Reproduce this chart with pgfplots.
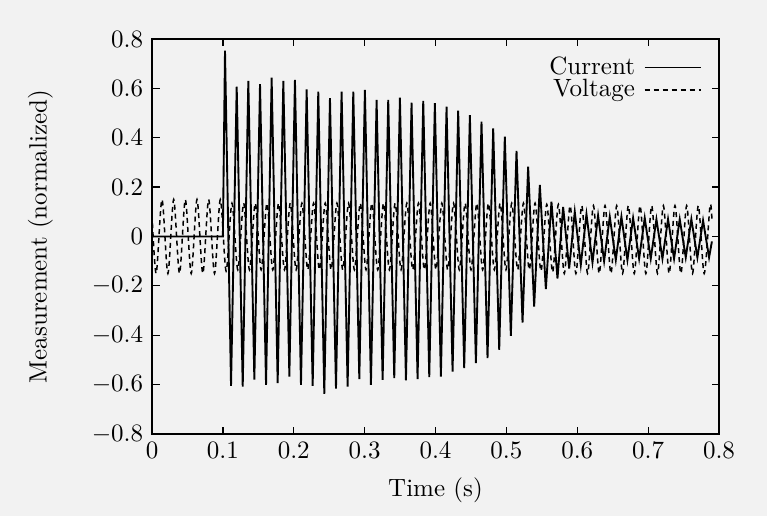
\documentclass[border=0pt]{standalone}
\usepackage{pgfplots}
\pgfplotsset{compat=1.18}

\begin{document}
\begin{tikzpicture}
% page background (photographed paper)
\fill[black!5] (-60.8pt,-32.8pt) rectangle (246pt,173.6pt);
\begin{axis}[
    at={(0pt,0pt)}, anchor=south west,
    scale only axis,
    width=226.8pt,
    height=158pt,
    xmin=0, xmax=0.8,
    ymin=-0.8, ymax=0.8,
    xtick={0,0.1,0.2,0.3,0.4,0.5,0.6,0.7,0.8},
    ytick={-0.8,-0.6,-0.4,-0.2,0,0.2,0.4,0.6,0.8},
    xticklabel style={/pgf/number format/fixed,/pgf/number format/precision=1},
    yticklabel style={/pgf/number format/fixed,/pgf/number format/precision=1},
    tick align=inside,
    major tick length=3pt,
    axis line style={line width=0.7pt},
    major tick style={line width=0.5pt, black},
    xlabel={Time (s)},
    ylabel={Measurement (normalized)},
    every axis x label/.style={at={(axis description cs:0.5,-0.142)}, anchor=center},
    every axis y label/.style={at={(axis description cs:-0.197,0.5)}, rotate=90, anchor=center},
    legend style={draw=none, fill=none, at={(0.975,0.975)}, anchor=north east,
        row sep=-3.5pt, inner sep=1pt},
    legend cell align=right,
    legend plot pos=right,
    legend image code/.code={\path (0pt,0pt); \draw[#1] (1.5pt,0pt) -- (24pt,0pt);},
]

% Current
\addplot[black, line width=0.75pt] coordinates {
(0,0) (0.1,0) (0.1030,0.753) (0.1115,-0.605) (0.1195,0.607) (0.1280,-0.608)
(0.1359,0.630) (0.1444,-0.580) (0.1524,0.617) (0.1609,-0.601) (0.1688,0.643)
(0.1773,-0.594) (0.1853,0.630) (0.1938,-0.567) (0.2017,0.634) (0.2102,-0.601)
(0.2182,0.596) (0.2267,-0.605) (0.2346,0.587) (0.2431,-0.637) (0.2511,0.560)
(0.2596,-0.616) (0.2675,0.587) (0.2760,-0.608) (0.2840,0.587) (0.2925,-0.578)
(0.3004,0.594) (0.3089,-0.601) (0.3169,0.553) (0.3254,-0.581) (0.3333,0.553)
(0.3418,-0.574) (0.3498,0.562) (0.3583,-0.583) (0.3662,0.542) (0.3747,-0.578)
(0.3827,0.549) (0.3912,-0.570) (0.3991,0.540) (0.4076,-0.567) (0.4156,0.526)
(0.4241,-0.547) (0.4320,0.510) (0.4405,-0.533) (0.4485,0.492) (0.4570,-0.513)
(0.4649,0.465) (0.4734,-0.493) (0.4814,0.438) (0.4899,-0.459) (0.4978,0.404)
(0.5063,-0.402) (0.5143,0.347) (0.5228,-0.349) (0.5307,0.283) (0.5392,-0.284)
(0.5472,0.209) (0.5557,-0.213) (0.5636,0.141) (0.5721,-0.17) (0.5801,0.12)
(0.5886,-0.13) (0.5965,0.10) (0.6050,-0.115) (0.6130,0.09) (0.6215,-0.105)
(0.6294,0.085) (0.6379,-0.10) (0.6459,0.08) (0.6544,-0.095) (0.6623,0.08)
(0.6708,-0.095) (0.6788,0.075) (0.6873,-0.09) (0.6952,0.075) (0.7037,-0.09)
(0.7117,0.07) (0.7202,-0.09) (0.7281,0.07) (0.7366,-0.09) (0.7446,0.07)
(0.7531,-0.085) (0.7610,0.07) (0.7695,-0.085) (0.7775,0.065) (0.7860,-0.085)
(0.79,-0.02)
};
\addlegendentry{Current}

% Voltage
\addplot[black, line width=0.6pt, smooth, dash pattern=on 2pt off 1.6pt] coordinates {
(0,0.09)
(0.0059,-0.15) (0.0141,0.15) (0.0224,-0.15) (0.0306,0.15)
(0.0388,-0.15) (0.0470,0.15) (0.0553,-0.15) (0.0635,0.15)
(0.0717,-0.15) (0.0799,0.15) (0.0882,-0.15) (0.0964,0.15)
(0.1046,-0.14) (0.1128,0.135) (0.1211,-0.135) (0.1293,0.135)
(0.1375,-0.135) (0.1457,0.135) (0.1540,-0.135) (0.1622,0.135)
(0.1704,-0.135) (0.1786,0.135) (0.1869,-0.135) (0.1951,0.135)
(0.2033,-0.135) (0.2115,0.135) (0.2198,-0.135) (0.2280,0.135)
(0.2362,-0.135) (0.2444,0.135) (0.2527,-0.135) (0.2609,0.135)
(0.2691,-0.135) (0.2773,0.135) (0.2856,-0.135) (0.2938,0.135)
(0.3020,-0.135) (0.3102,0.135) (0.3185,-0.135) (0.3267,0.135)
(0.3349,-0.135) (0.3431,0.135) (0.3514,-0.135) (0.3596,0.135)
(0.3678,-0.135) (0.3760,0.135) (0.3843,-0.135) (0.3925,0.135)
(0.4007,-0.135) (0.4089,0.135) (0.4172,-0.135) (0.4254,0.135)
(0.4336,-0.135) (0.4418,0.135) (0.4501,-0.135) (0.4583,0.135)
(0.4665,-0.135) (0.4747,0.135) (0.4830,-0.135) (0.4912,0.135)
(0.4994,-0.135) (0.5076,0.135) (0.5159,-0.135) (0.5241,0.135)
(0.5323,-0.135) (0.5405,0.135) (0.5488,-0.14) (0.5570,0.13)
(0.5652,-0.145) (0.5734,0.13) (0.5817,-0.15) (0.5899,0.125)
(0.5981,-0.15) (0.6063,0.125) (0.6146,-0.15) (0.6228,0.125)
(0.6310,-0.15) (0.6392,0.125) (0.6475,-0.15) (0.6557,0.125)
(0.6639,-0.15) (0.6721,0.125) (0.6804,-0.15) (0.6886,0.125)
(0.6968,-0.15) (0.7050,0.125) (0.7133,-0.15) (0.7215,0.125)
(0.7297,-0.15) (0.7379,0.125) (0.7462,-0.15) (0.7544,0.125)
(0.7626,-0.15) (0.7708,0.125) (0.7791,-0.15) (0.7873,0.125)
(0.79,0.07)
};
\addlegendentry{Voltage}

\end{axis}
\end{tikzpicture}
\end{document}
